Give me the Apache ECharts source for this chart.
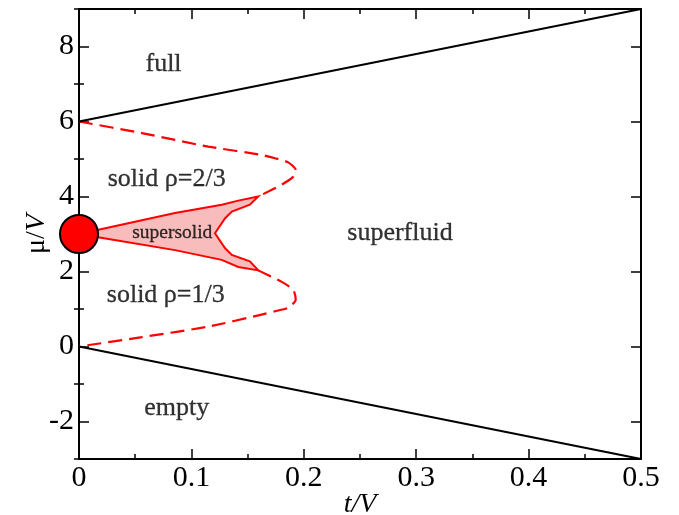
<!DOCTYPE html>
<html><head><meta charset="utf-8">
<script src="https://cdn.jsdelivr.net/npm/echarts@6/dist/echarts.min.js"></script>
<style>html,body{margin:0;padding:0;background:#fff}#c{width:679px;height:515px}</style>
</head><body><div id="c"></div>
<script>
// ---- data ----
var xTicks = [0, 0.1, 0.2, 0.3, 0.4, 0.5];
var yTicks = [-2, 0, 2, 4, 6, 8];
var yMinorTicks = [-3, -1, 1, 3, 5, 7, 9];
var fullT = [0, 0.5], fullMu = [6, 9];
var emptyT = [0, 0.5], emptyMu = [0, -3];
var upperLobeT  = [0, 0.056, 0.115, 0.1625, 0.1744, 0.1862, 0.1928, 0.1907, 0.180, 0.1595];
var upperLobeMu = [6, 5.69, 5.33, 5.11, 5.02, 4.91, 4.71, 4.53, 4.31, 4.0];
var lowerLobeT  = [0.1595, 0.180, 0.1907, 0.1928, 0.186, 0.1744, 0.1625, 0.115, 0.056, 0];
var lowerLobeMu = [2.03, 1.73, 1.51, 1.25, 1.03, 0.94, 0.85, 0.53, 0.25, 0];
var superSolidT  = [0, 0.0854, 0.127, 0.1417, 0.1595, 0.152, 0.136, 0.130, 0.121, 0.130, 0.136, 0.152, 0.1595, 0.1417, 0.127, 0.0854, 0];
var superSolidMu = [3, 3.56, 3.78, 3.89, 4.0, 3.78, 3.60, 3.42, 3.02, 2.62, 2.44, 2.27, 2.03, 2.12, 2.31, 2.57, 3];
var pointT = [0], pointMu = [3];
var labelTexts = ['full', 'solid ρ=2/3', 'supersolid', 'superfluid', 'solid ρ=1/3', 'empty'];
var labelT  = [0.0752, 0.078, 0.083, 0.2856, 0.0772, 0.0869];
var labelMu = [7.52, 4.45, 3.03, 3.02, 1.38, -1.65];

function zip(a, b) { return a.map(function (v, i) { return [v, b[i]]; }); }

var FONT = '"Liberation Serif", "Times New Roman", serif';
var chart = echarts.init(document.getElementById('c'));

var blackLine = { show: true, onZero: false, lineStyle: { color: '#000', width: 2 } };
var tickStyle = { color: '#000', width: 1.5 };

function yAx(position, major, labels) {
  return {
    type: 'value', min: -3, max: 9, interval: 1, position: position,
    axisLine: major ? blackLine : { show: false },
    splitLine: { show: false },
    axisTick: { show: true, inside: true, length: major ? 10 : 5, lineStyle: tickStyle,
      customValues: major ? yTicks : yMinorTicks },
    axisLabel: labels ? { show: true, fontFamily: FONT, fontSize: 30, color: '#000', margin: 5, customValues: yTicks }
                      : { show: false }
  };
}
function xAx(position, labels) {
  return {
    type: 'value', min: 0, max: 0.5, interval: 0.1, position: position,
    axisLine: blackLine, splitLine: { show: false },
    axisTick: { show: true, inside: true, length: 10, lineStyle: tickStyle },
    minorTick: { show: true, splitNumber: 2, length: 5, lineStyle: tickStyle },
    axisLabel: labels ? { fontFamily: FONT, fontSize: 30, color: '#000', margin: 4,
      formatter: function (v) { return String(Math.round(v * 10) / 10); } } : { show: false }
  };
}

var xBottom = xAx('bottom', true);
xBottom.name = 't/V'; xBottom.nameLocation = 'middle'; xBottom.nameGap = 32; xBottom.nameMoveOverlap = false;
xBottom.nameTextStyle = { fontFamily: FONT, fontSize: 28, fontStyle: 'italic', color: '#000' };

var yLeft = yAx('left', true, true);
yLeft.name = '{a|μ/}{b|V}'; yLeft.nameLocation = 'middle'; yLeft.nameGap = 28; yLeft.nameRotate = 90;
yLeft.nameMoveOverlap = false;
yLeft.nameTextStyle = { fontFamily: FONT, fontSize: 28, color: '#000',
  rich: { a: { fontFamily: FONT, fontSize: 28, color: '#000' },
          b: { fontFamily: FONT, fontSize: 28, fontStyle: 'italic', color: '#000' } } };

chart.setOption({
  animation: false,
  grid: { left: 79, right: 38, top: 9, bottom: 56, outerBoundsMode: 'none', containLabel: false },
  xAxis: [xBottom, xAx('top', false)],
  yAxis: [yLeft, yAx('right', true, false), yAx('left', false, false), yAx('right', false, false)],
  series: [
    { type: 'line', data: zip(fullT, fullMu), symbol: 'none', lineStyle: { color: '#000', width: 2 }, z: 3 },
    { type: 'line', data: zip(emptyT, emptyMu), symbol: 'none', lineStyle: { color: '#000', width: 2 }, z: 3 },
    { type: 'line', data: zip(upperLobeT, upperLobeMu), symbol: 'none', smooth: 0.2,
      lineStyle: { color: '#ff0000', width: 2.2, type: [14, 7] }, z: 2 },
    { type: 'line', data: zip(lowerLobeT, lowerLobeMu), symbol: 'none', smooth: 0.2,
      lineStyle: { color: '#ff0000', width: 2.2, type: [14, 7] }, z: 2 },
    { type: 'custom', data: [0], z: 4,
      renderItem: function (params, api) {
        var pts = superSolidT.map(function (t, i) { return api.coord([t, superSolidMu[i]]); });
        return { type: 'polygon', shape: { points: pts },
          style: { fill: '#f8bcbc', stroke: '#ff0000', lineWidth: 2 } };
      } },
    { type: 'scatter', data: zip(pointT, pointMu), symbol: 'circle', symbolSize: 38, z: 6,
      itemStyle: { color: '#ff0000', borderColor: '#000', borderWidth: 2, opacity: 1 } },
    { type: 'scatter', symbolSize: 0, z: 7, silent: true,
      data: labelTexts.map(function (txt, i) {
        return { value: [labelT[i], labelMu[i]], name: txt,
          label: { show: true, position: 'inside', formatter: txt, fontFamily: FONT,
            fontSize: txt === 'supersolid' ? 19.5 : 26, color: '#000',
            textBorderColor: '#000', textBorderWidth: 0.3 } };
      }) }
  ]
});
</script></body></html>
